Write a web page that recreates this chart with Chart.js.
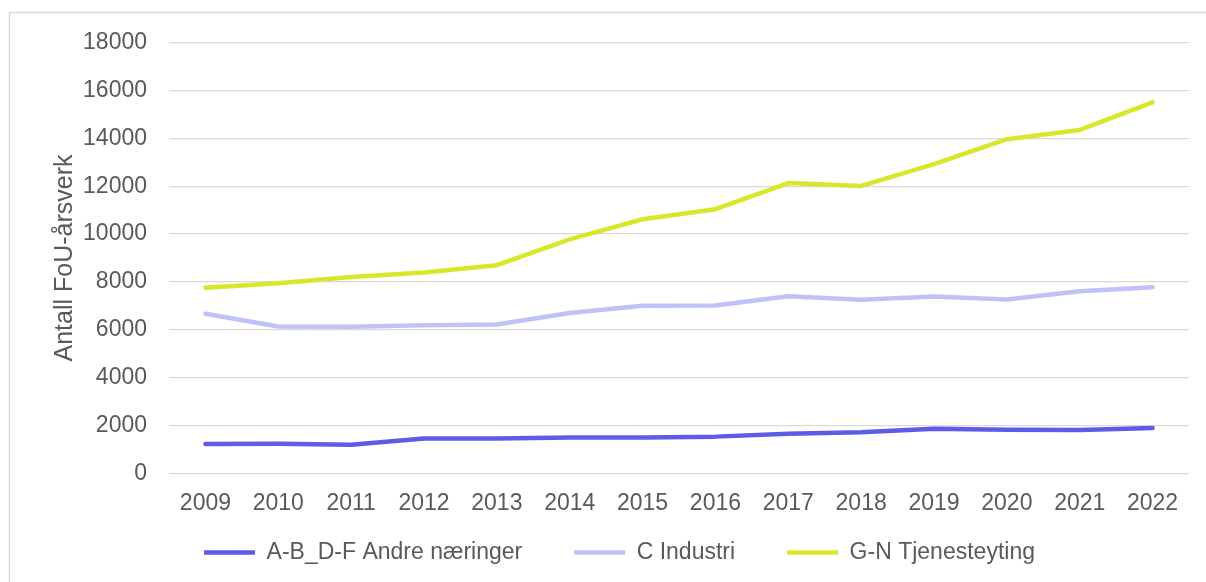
<!DOCTYPE html>
<html>
<head>
<meta charset="utf-8">
<script src="https://cdn.jsdelivr.net/npm/chart.js@4"></script>
<style>
  html, body { margin: 0; padding: 0; background: #fff; }
  #wrap { width: 1206px; height: 582px; }
</style>
</head>
<body>
<div id="wrap"><canvas id="fou-chart" width="1206" height="582"></canvas></div>
<script>
var years = ["2009", "2010", "2011", "2012", "2013", "2014", "2015", "2016", "2017", "2018", "2019", "2020", "2021", "2022"];
var andreNaeringer = [1230, 1240, 1200, 1460, 1460, 1500, 1500, 1540, 1660, 1720, 1870, 1830, 1820, 1900];
var industri = [6670, 6140, 6130, 6190, 6220, 6700, 7010, 7020, 7400, 7260, 7390, 7270, 7610, 7780];
var tjenesteyting = [7760, 7950, 8210, 8390, 8700, 9780, 10620, 11040, 12130, 12010, 12920, 13960, 14350, 15500];

var textColor = "#595959";
var fontFamily = "'Liberation Sans', Arial, sans-serif";

function line(label, values, color) {
  return {
    label: label,
    data: values,
    borderColor: color,
    backgroundColor: color,
    borderWidth: 4.5,
    borderCapStyle: "round",
    borderJoinStyle: "round",
    pointRadius: 0,
    tension: 0,
  };
}

// light grey frame round the chart, like the Excel chart area border
var frame = {
  id: "frame",
  beforeDraw: function (chart) {
    var c = chart.ctx;
    c.save();
    c.fillStyle = "#fff";
    c.fillRect(0, 0, chart.width, chart.height);
    c.strokeStyle = "#d9d9d9";
    c.lineWidth = 1.5;
    c.strokeRect(9.5, 12.5, 1400, 800);
    c.restore();
  },
  // legend padding is also the gap between items, so pull the legend box
  // up over the x axis box after layout (x labels are clipped to their box)
  afterLayout: function (chart) {
    var lg = chart.legend;
    var h = lg.height;
    lg.top = 489;
    lg.bottom = lg.top + h;
  },
};

const config = {
  type: "line",
  data: {
    labels: years,
    datasets: [
      line("A-B_D-F Andre næringer", andreNaeringer, "#5c5ce8"),
      line("C Industri", industri, "#c1c1fa"),
      line("G-N Tjenesteyting", tjenesteyting, "#d8e72a"),
    ],
  },
  options: {
    responsive: false,
    animation: false,
    layout: { padding: { left: 50, right: 17, top: 42.5, bottom: -21.5 } },
    plugins: {
      legend: {
        display: true,
        position: "bottom",
        labels: {
          usePointStyle: true,
          pointStyle: "line",
          pointStyleWidth: 51,
          padding: 52,
          color: textColor,
          font: { size: 23, family: fontFamily },
        },
      },
      tooltip: { enabled: false },
    },
    scales: {
      x: {
        offset: true,
        grid: { display: false, drawTicks: false },
        border: { display: false },
        ticks: {
          padding: 16,
          color: textColor,
          maxRotation: 0,
          autoSkip: false,
          font: { size: 23, family: fontFamily },
        },
        afterFit: function (scale) { scale.height = 45; },
      },
      y: {
        min: 0,
        max: 18000,
        grid: { color: "#d9d9d9", lineWidth: 1.3, drawTicks: false },
        border: { display: false },
        ticks: {
          stepSize: 2000,
          padding: 22,
          color: textColor,
          font: { size: 23, family: fontFamily },
          callback: function (v) { return String(v); },
        },
        title: {
          display: true,
          text: "Antall FoU-årsverk",
          color: textColor,
          padding: 0,
          font: { size: 25, family: fontFamily },
        },
        afterFit: function (scale) { scale.width = 119; },
      },
    },
  },
  plugins: [frame],
};

window.addEventListener("load", function () {
  const ctx = document.getElementById("fou-chart");
  new Chart(ctx, config);
});
</script>
</body>
</html>
